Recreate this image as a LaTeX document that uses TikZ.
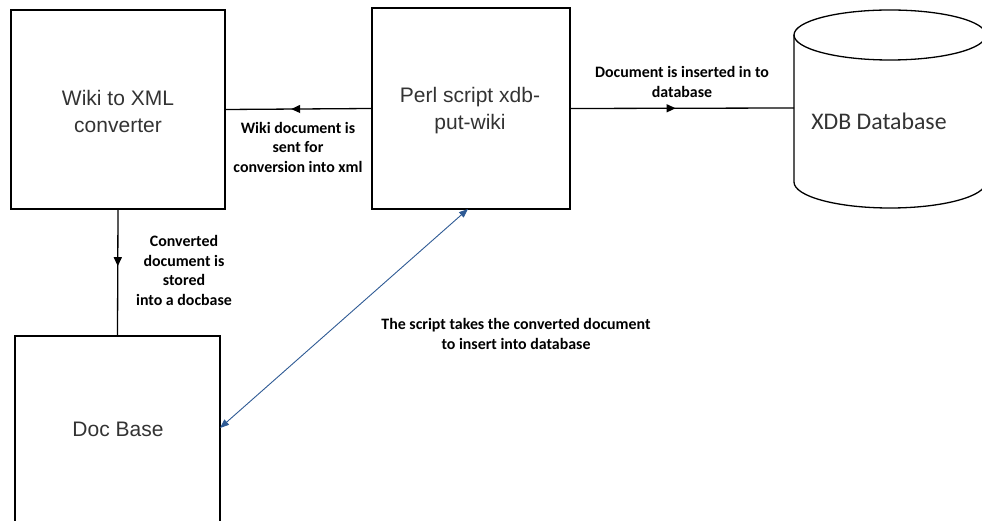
\documentclass[tikz,border=0pt]{standalone}
\usepackage{fontspec}
\setmainfont{Liberation Sans}
\newfontfamily\carlitofont{Carlito}
\usetikzlibrary{arrows.meta,decorations.markings}
\definecolor{boxtext}{HTML}{333333}
\definecolor{linkblue}{HTML}{2E5A94}
\tikzset{
  box/.style={draw=black,line width=1.3pt,inner sep=0pt},
  bigtext/.style={text=boxtext,font=\fontsize{21}{27}\selectfont,align=center},
  lab/.style={font=\carlitofont\bfseries\fontsize{15.9}{19.5}\selectfont,align=center,text=black},
  conn/.style={line width=1.3pt,draw=black},
  midarrow/.style={postaction={decorate},decoration={markings,mark=at position #1 with {\arrow{Triangle[length=9pt,width=8pt]}}}}
}
\begin{document}
\begin{tikzpicture}[x=1pt,y=-1pt]
\useasboundingbox (0,0) rectangle (982,521);
\clip (0,0) rectangle (982,521);
% boxes
\node[box,minimum width=214pt,minimum height=199pt] (wiki) at (118,109.5) {};
\node[bigtext] (wikit) at (118,111) {Wiki to XML\\converter};
\node[box,minimum width=198pt,minimum height=201pt] (perl) at (471,108.5) {};
\node[bigtext] (perlt) at (470,111) {Perl script xdb-\\put-wiki};
\node[box,minimum width=205pt,minimum height=200pt] (doc) at (117.5,436) {};
\node[bigtext] (doct) at (118,429) {Doc Base};
% cylinder
\coordinate (cylL) at (794,108);
\draw[line width=1.3pt] (794,35) arc[start angle=180,end angle=-180,x radius=96pt,y radius=25pt];
\draw[line width=1.3pt] (794,35) -- (794,182) arc[start angle=180,end angle=360,x radius=96pt,y radius=26pt] -- (986,35);
\node[font=\carlitofont\fontsize{23.8}{28}\selectfont,text=boxtext] (xdb) at (879,121) {XDB Database};
% connectors
\draw[conn,midarrow=0.55] (perl.west) -- (wiki.east);
\draw[conn,midarrow=0.47] (perl.east) -- (cylL);
\draw[conn,midarrow=0.45] (wiki.south) -- (doc.north);
\coordinate (pb) at (468,209);
\coordinate (dr) at (220,428);
\draw[linkblue,line width=0.9pt,{Triangle[length=9pt,width=7pt]}-{Triangle[length=9pt,width=7pt]}] (dr) -- (pb);
% labels
\node[lab] (l1) at (298,147) {Wiki document is\\sent for\\conversion into xml};
\node[lab] (l2) at (682,82) {Document is inserted in to\\database};
\node[lab] (l3) at (184,270.5) {Converted\\document is\\stored\\into a docbase};
\node[lab] (l4) at (516,334) {The script takes the converted document\\to insert into database};
\end{tikzpicture}
\end{document}
